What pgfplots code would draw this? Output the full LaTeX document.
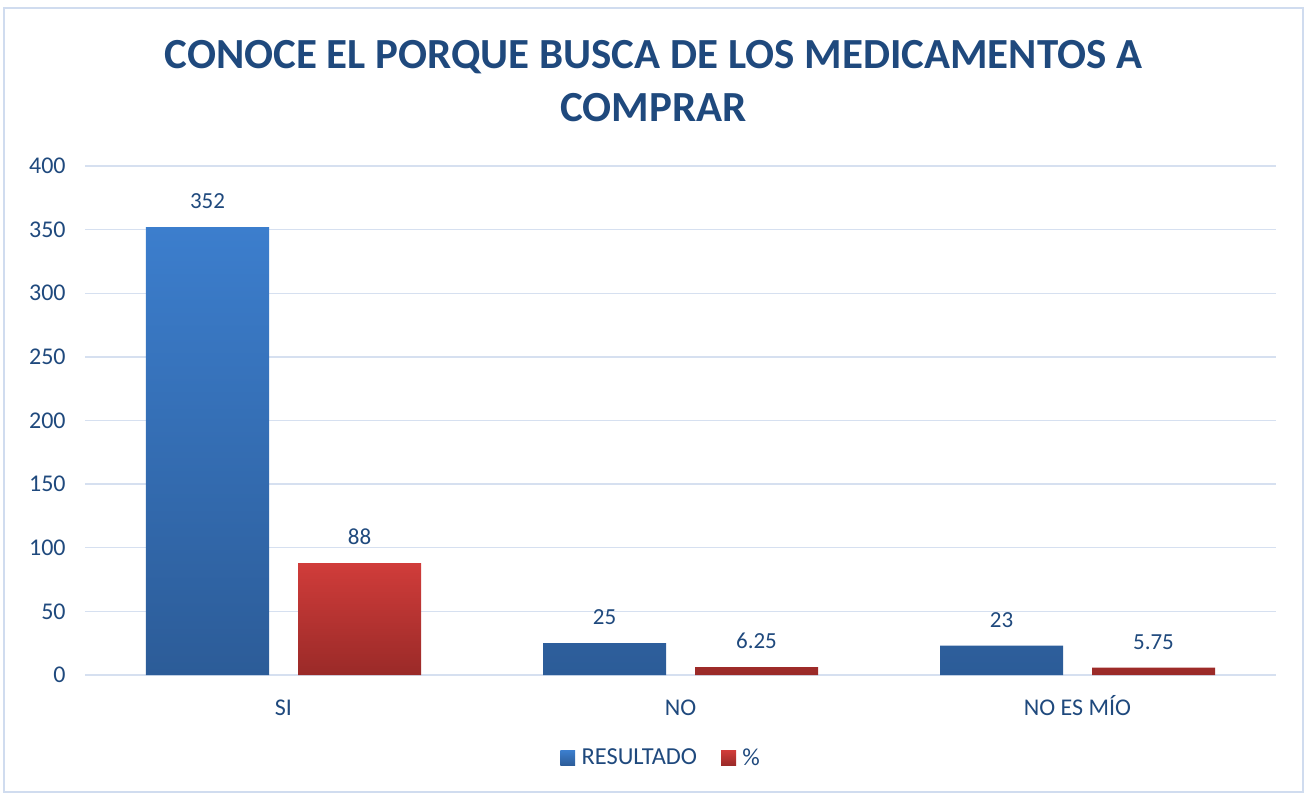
\documentclass[border=0pt]{standalone}
\usepackage{fontspec}
\setmainfont{Carlito}
\usepackage{pgfplots}
\pgfplotsset{compat=1.18}

\definecolor{txt}{RGB}{31,73,125}
\definecolor{gridc}{RGB}{214,224,240}
\definecolor{framec}{RGB}{208,220,239}
\definecolor{bluetop}{RGB}{60,126,205}
\definecolor{bluebot}{RGB}{44,92,152}
\definecolor{redtop}{RGB}{208,60,58}
\definecolor{redbot}{RGB}{154,42,40}

\begin{document}
\begin{tikzpicture}
\useasboundingbox (-63.75pt,-88.5pt) rectangle (916.5pt,506.25pt);
\draw[framec, line width=1pt] (-60.75pt,-87.75pt) rectangle (913.5pt,500.25pt);

\node[font=\fontsize{32.2}{39.5}\selectfont\bfseries, text=txt, align=center]
  at (426.4pt,445.5pt) {CONOCE EL PORQUE BUSCA DE LOS MEDICAMENTOS A\\COMPRAR};

\begin{axis}[
    scale only axis,
    width=893.25pt, height=381.75pt,
    ybar,
    xmin=-0.5, xmax=2.5,
    ymin=0, ymax=400,
    ytick={0,50,...,400},
    xtick={0,1,2},
    xticklabels={SI,NO,NO ES MÍO},
    axis line style={draw=none},
    major tick length=0pt,
    ymajorgrids,
    grid style={gridc, line width=1pt},
    /pgf/number format/assume math mode=true,
    tick label style={font=\fontsize{18}{21}\selectfont, text=txt},
    xticklabel style={text height=14.5pt, text depth=0pt, yshift=-12pt},
    yticklabel style={xshift=-11pt},
    nodes near coords,
    every node near coord/.append style={font=\fontsize{17.25}{20}\selectfont, text=txt, yshift=10pt},
    legend columns=2,
    legend style={at={(axis description cs:0.484,-0.163)}, anchor=center, draw=none, fill=none,
        font=\fontsize{18.3}{21}\selectfont, text=txt,
        /tikz/every even column/.append style={column sep=16pt}},
    legend image code/.code={\path[#1, draw=none] (0pt,-5.6pt) rectangle (11.2pt,5.6pt); \path (14pt,0pt);},
]
\addplot[bar width=92.25pt, bar shift=-57pt, draw=none, top color=bluetop, bottom color=bluebot]
    coordinates {(0,352) (1,25) (2,23)};
\addlegendentry{RESULTADO}
\addplot[bar width=92.25pt, bar shift=57pt, draw=none, top color=redtop, bottom color=redbot]
    coordinates {(0,88) (1,6.25) (2,5.75)};
\addlegendentry{\%}
\end{axis}
\end{tikzpicture}
\end{document}
